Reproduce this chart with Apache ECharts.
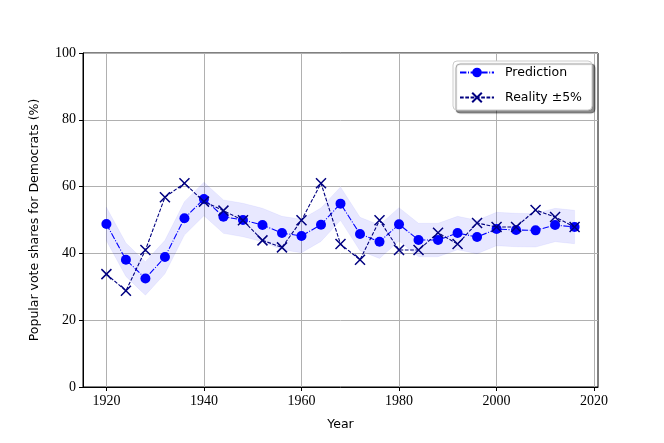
<!DOCTYPE html>
<html>
<head>
<meta charset="utf-8">
<script src="https://cdn.jsdelivr.net/npm/echarts@6/dist/echarts.min.js"></script>
<style>html,body{margin:0;padding:0;background:#fff}#c{width:664px;height:443px}</style>
</head>
<body>
<div id="c"></div>
<script>
const years = [1920,1924,1928,1932,1936,1940,1944,1948,1952,1956,1960,1964,1968,1972,1976,1980,1984,1988,1992,1996,2000,2004,2008,2012,2016];
const prediction = [48.8,38.1,32.5,38.9,50.5,56.3,51.0,50.0,48.5,46.1,45.2,48.6,54.9,45.8,43.5,48.7,44.0,44.0,46.1,44.9,47.3,47.0,46.9,48.5,47.9];
const reality = [33.8,28.8,41.0,56.8,61.0,55.5,52.8,49.9,43.9,41.8,49.9,61.0,42.8,38.1,49.9,41.0,41.0,46.2,42.8,49.1,47.9,47.9,53.0,50.9,47.9];
const bandHalfWidth = 5;
const xTicks = [1920,1940,1960,1980,2000,2020];

const chart = echarts.init(document.getElementById('c'), null, {renderer:'canvas'});
const tickFont = {fontFamily:'Liberation Serif', fontSize:14, color:'#000'};
chart.setOption({
  animation:false,
  grid:{left:83, right:66, top:53, bottom:56, show:true, borderColor:'#000', borderWidth:1, backgroundColor:'transparent'},
  legend:{
    right:72, top:61, orient:'vertical',
    data:['Prediction','Reality ±5%'],
    itemWidth:34, itemHeight:12, itemGap:12,
    padding:[5,10,6,6],
    backgroundColor:'#fff', borderColor:'#cccccc', borderWidth:1, borderRadius:4,
    shadowColor:'rgba(0,0,0,0.45)', shadowOffsetX:3, shadowOffsetY:3, shadowBlur:1,
    textStyle:{fontFamily:'DejaVu Sans', fontSize:12.5, color:'#000', padding:[0,0,0,6]}
  },
  xAxis:{
    type:'value', min:1915.2, max:2020.8,
    name:'Year', nameLocation:'middle', nameGap:31,
    nameTextStyle:{fontFamily:'DejaVu Sans', fontSize:12.5, color:'#000'},
    axisLine:{show:true, lineStyle:{color:'#000', width:1}},
    axisTick:{show:true, inside:false, length:4, lineStyle:{color:'#000'}, customValues:xTicks},
    axisLabel:{show:true, margin:7, customValues:xTicks, formatter:v=>String(Math.round(v)), ...tickFont},
    splitLine:{show:true, lineStyle:{color:'#b0b0b0', width:1}}
  },
  yAxis:{
    type:'value', min:0, max:100, interval:20,
    name:'Popular vote shares for Democrats (%)', nameLocation:'middle', nameGap:42, nameRotate:90,
    nameTextStyle:{fontFamily:'DejaVu Sans', fontSize:12.5, color:'#000'},
    axisLine:{show:true, lineStyle:{color:'#000', width:1}},
    axisTick:{show:true, inside:false, length:4, lineStyle:{color:'#000'}},
    axisLabel:{show:true, margin:7, formatter:v=>String(v), ...tickFont},
    splitLine:{show:true, lineStyle:{color:'#b0b0b0', width:1}}
  },
  series:[
    {name:'band', type:'custom', data:[0], silent:true, z:1,
     renderItem:function(params, api){
       const up = years.map((y,i)=>api.coord([y, prediction[i]+bandHalfWidth]));
       const lo = years.map((y,i)=>api.coord([y, prediction[i]-bandHalfWidth])).reverse();
       return {type:'polygon', shape:{points:up.concat(lo)},
               style:{fill:'rgba(0,0,255,0.09)', stroke:'rgba(0,0,255,0.05)', lineWidth:1}};
     }},
    {name:'Prediction', type:'line', data:years.map((y,i)=>[y,prediction[i]]),
     symbol:'circle', symbolSize:10, color:'#0000ff',
     itemStyle:{color:'#0000ff'},
     lineStyle:{color:'#0000ff', width:1.1, type:[6.4,1.6,1,1.6]}, z:3},
    {name:'Reality ±5%', type:'line', data:years.map((y,i)=>[y,reality[i]]),
     symbol:'path://M0,0L10,10M10,0L0,10', symbolSize:10, color:'#000080',
     itemStyle:{color:'#000080', borderColor:'#000080', borderWidth:1.5},
     lineStyle:{color:'#000080', width:1.1, type:[3.7,1.6]}, z:4}
  ]
});
</script>
</body>
</html>
